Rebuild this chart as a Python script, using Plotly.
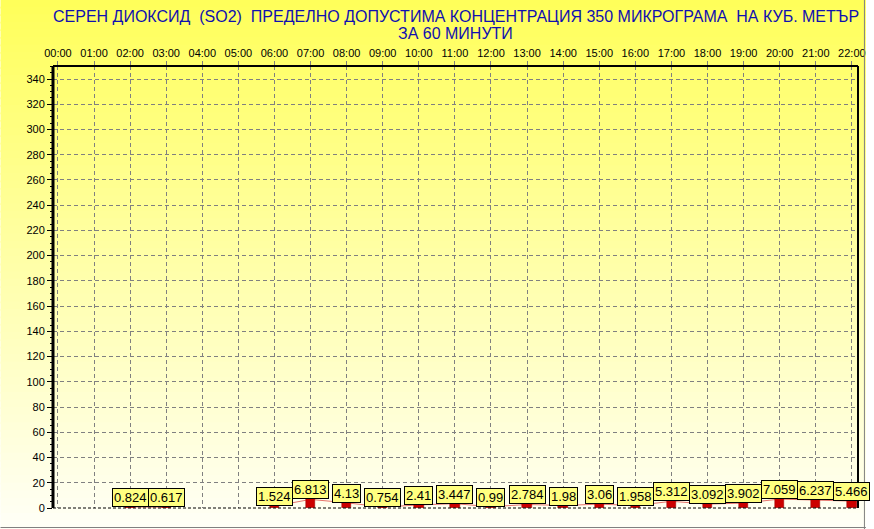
import plotly.graph_objects as go

# ---- data ----
hour_labels = ["00:00", "01:00", "02:00", "03:00", "04:00", "05:00", "06:00", "07:00",
               "08:00", "09:00", "10:00", "11:00", "12:00", "13:00", "14:00", "15:00",
               "16:00", "17:00", "18:00", "19:00", "20:00", "21:00", "22:00"]
so2_values = [None, None, 0.824, 0.617, None, None, 1.524, 6.813,
              4.13, 0.754, 2.41, 3.447, 0.99, 2.784, 1.98, 3.06,
              1.958, 5.312, 3.092, 3.902, 7.059, 6.237, 5.466]
y_tick_values = list(range(0, 341, 20))

title_line1 = ("СЕРЕН ДИОКСИД\u00a0 (SO2)\u00a0 ПРЕДЕЛНО ДОПУСТИМА КОНЦЕНТРАЦИЯ 350 МИКРОГРАМА"
               "\u00a0 НА КУБ. МЕТЪР")
title_line2 = "ЗА 60 МИНУТИ"

W, H = 874, 529
ML, MR, MT, MB = 53, 8, 66, 21
PW, PH = W - ML - MR, H - MT - MB

x_pos = list(range(len(hour_labels)))

fig = go.Figure()

# connecting line
fig.add_trace(go.Scatter(
    x=x_pos, y=so2_values, mode="lines",
    line=dict(color="rgba(210,0,0,0.55)", width=1),
    connectgaps=False, hoverinfo="skip", showlegend=False))

# small red bars
fig.add_trace(go.Bar(
    x=x_pos, y=so2_values, width=0.26,
    marker=dict(color="#CC0000", line=dict(color="#990000", width=0.5)),
    showlegend=False))

# ---- background gradient (yellow -> cream) ----
shapes = []
n = 70
x0p, x1p = -ML / PW, 1 + MR / PW
ytop, ybot = 1 + MT / PH, -MB / PH
for i in range(n):
    t = i / (n - 1)
    b = int(round(0x5A + (0xF6 - 0x5A) * t))
    ya = ytop - (ytop - ybot) * i / n
    yb = ytop - (ytop - ybot) * (i + 1) / n
    shapes.append(dict(type="rect", xref="paper", yref="paper",
                       x0=x0p, x1=x1p, y0=yb - 0.002, y1=ya + 0.002,
                       fillcolor=f"rgb(255,255,{b})", line=dict(width=0),
                       layer="below"))

# plot frame
shapes += [
    dict(type="line", xref="paper", yref="paper", x0=0, x1=0, y0=0, y1=1,
         line=dict(color="black", width=3)),
    dict(type="line", xref="paper", yref="paper", x0=0, x1=1, y0=1, y1=1,
         line=dict(color="black", width=2)),
    dict(type="line", xref="paper", yref="paper", x0=1, x1=1, y0=0, y1=1,
         line=dict(color="black", width=2)),
    dict(type="line", xref="paper", yref="paper", x0=0, x1=1, y0=0, y1=0,
         line=dict(color="black", width=1, dash="3px,2px")),
    # window edges
    dict(type="line", xref="paper", yref="paper", x0=x0p, x1=x1p,
         y0=ybot + 1.5 / PH, y1=ybot + 1.5 / PH, line=dict(color="#808080", width=1)),
    dict(type="line", xref="paper", yref="paper", x0=x1p - 1.5 / PW, x1=x1p - 1.5 / PW,
         y0=ybot, y1=ytop, line=dict(color="#808080", width=1)),
]

# title lines as paper annotations
def paper_y(py):
    return (H - MB - py) / PH

title_font = dict(family="Liberation Sans, Arial", size=16, color="#1010B0")
annotations = [
    dict(x=0.5, xref="paper", y=paper_y(17), yref="paper", text=title_line1,
         showarrow=False, xanchor="center", yanchor="middle", font=title_font),
    dict(x=0.5, xref="paper", y=paper_y(33), yref="paper", text=title_line2,
         showarrow=False, xanchor="center", yanchor="middle", font=title_font),
]

# value labels
for xi, v in zip(x_pos, so2_values):
    if v is None:
        continue
    annotations.append(dict(
        x=xi, y=v, xref="x", yref="y", text=f"{v:g}", showarrow=False,
        yanchor="bottom", xanchor="center",
        font=dict(family="Liberation Sans, Arial", size=13, color="black"),
        bgcolor="#FFFF80", bordercolor="black", borderwidth=1, borderpad=1))

fig.update_layout(
    width=W, height=H,
    margin=dict(l=ML, r=MR, t=MT, b=MB, pad=0),
    paper_bgcolor="rgba(0,0,0,0)",
    plot_bgcolor="rgba(0,0,0,0)",
    shapes=shapes,
    annotations=annotations,
    bargap=0,
    xaxis=dict(
        side="top", range=[-0.137, 22.17],
        tickmode="array", tickvals=x_pos, ticktext=hour_labels,
        tickfont=dict(family="Liberation Sans, Arial", size=11, color="black"),
        ticks="outside", ticklen=4, tickcolor="#808080",
        showgrid=True, gridcolor="#808080", griddash="4px,3px", gridwidth=1,
        showline=False, zeroline=False, fixedrange=True),
    yaxis=dict(
        range=[0, 350.3],
        tickmode="array", tickvals=y_tick_values,
        tickfont=dict(family="Liberation Sans, Arial", size=11, color="black"),
        ticks="outside", ticklen=5, tickcolor="black",
        minor=dict(dtick=5, ticks="outside", ticklen=2, tickcolor="black", showgrid=False),
        showgrid=True, gridcolor="#808080", griddash="4px,3px", gridwidth=1,
        showline=False, zeroline=False, fixedrange=True),
    font=dict(family="Liberation Sans, Arial"),
)

fig.write_html("out.html", config={"displayModeBar": False},
               post_script="document.body.style.margin='0';document.body.style.padding='0';")
